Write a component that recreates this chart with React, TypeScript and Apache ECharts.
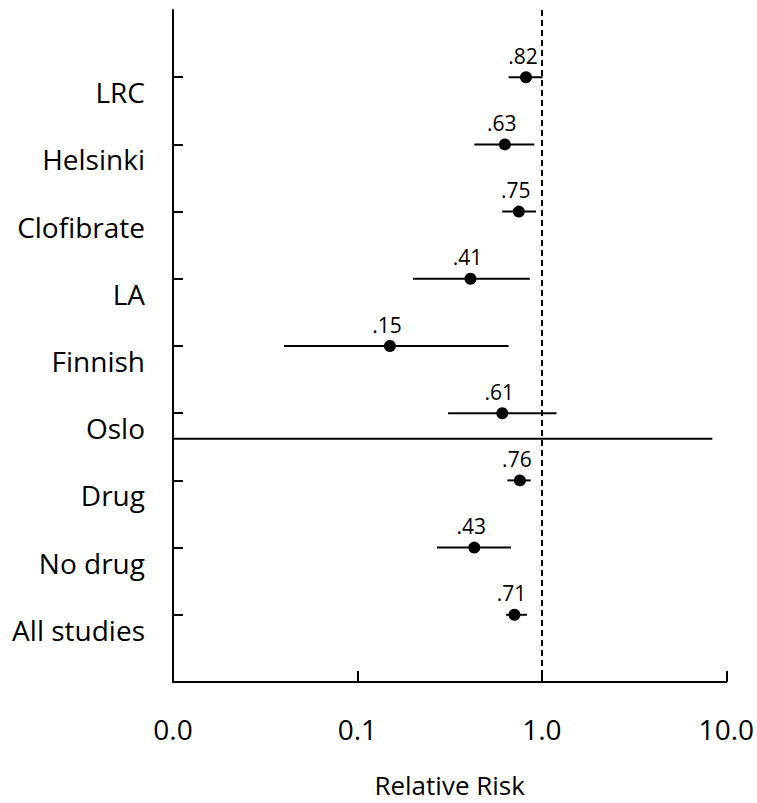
import React, { useEffect, useRef } from "react";
import * as echarts from "echarts";

const categories = ["LRC", "Helsinki", "Clofibrate", "LA", "Finnish", "Oslo", "Drug", "No drug", "All studies"];
const riskValues = [0.82, 0.63, 0.75, 0.41, 0.15, 0.61, 0.76, 0.43, 0.71];
const riskLabels = [".82", ".63", ".75", ".41", ".15", ".61", ".76", ".43", ".71"];
const ciLower = [0.66, 0.43, 0.61, 0.2, 0.04, 0.31, 0.65, 0.27, 0.64];
const ciUpper = [1.01, 0.91, 0.93, 0.86, 0.66, 1.2, 0.87, 0.68, 0.83];
const rowPositions = [1, 2, 3, 4, 5, 6, 7, 8, 9];
const xMin = 0.01;
const xMax = 10;
const referenceValue = 1;
const dividerRow = 6.38;
const dividerEnd = 8.4;
const xAxisTitle = "Relative Risk";

const FONT = "'Open Sans', 'DejaVu Sans', sans-serif";

export default function App() {
  const ref = useRef<HTMLDivElement>(null);
  useEffect(() => {
    if (!ref.current) return;
    const chart = echarts.init(ref.current, undefined, { renderer: "svg" });
    const option: any = {
      animation: false,
      backgroundColor: "#fff",
      textStyle: { fontFamily: FONT, color: "#000" },
      grid: { left: 173, right: 27, top: 10, bottom: 114, containLabel: false },
      xAxis: {
        type: "log",
        logBase: 10,
        min: xMin,
        max: xMax,
        name: xAxisTitle,
        nameLocation: "middle",
        nameGap: 90,
        nameTextStyle: { fontSize: 26, color: "#000", fontFamily: FONT },
        axisLine: { onZero: false, lineStyle: { color: "#000", width: 2 } },
        axisTick: { inside: true, length: 11, lineStyle: { color: "#000", width: 2 } },
        minorTick: { show: false },
        splitLine: { show: false },
        axisLabel: {
          fontSize: 28,
          color: "#000",
          fontFamily: FONT,
          margin: 33,
          formatter: (v: number) => v.toFixed(1),
        },
      },
      yAxis: {
        type: "value",
        inverse: true,
        min: 0,
        max: 10,
        interval: 1,
        axisLine: { show: true, onZero: false, lineStyle: { color: "#000", width: 2 } },
        axisTick: {
          show: true,
          inside: true,
          length: 10,
          customValues: rowPositions,
          lineStyle: { color: "#000", width: 2 },
        },
        splitLine: { show: false },
        axisLabel: {
          fontSize: 28,
          color: "#000",
          fontFamily: FONT,
          margin: 28,
          customValues: rowPositions,
          verticalAlign: "top",
          lineHeight: 30,
          formatter: (v: number) => {
            const i = Math.round(v) - 1;
            return i >= 0 && i < categories.length ? categories[i] : "";
          },
        },
      },
      series: [
        {
          type: "line",
          data: [
            [xMin, dividerRow],
            [dividerEnd, dividerRow],
          ],
          symbol: "none",
          silent: true,
          lineStyle: { color: "#000", width: 2 },
          markLine: {
            silent: true,
            symbol: ["none", "none"],
            label: { show: false },
            lineStyle: { color: "#000", width: 2, type: [6, 4] },
            data: [{ xAxis: referenceValue }],
          },
          z: 1,
        },
        {
          type: "custom",
          data: rowPositions.map((y, i) => [ciLower[i], ciUpper[i], y]),
          encode: { x: [0, 1], y: 2 },
          renderItem: (params: any, api: any) => {
            const p1 = api.coord([api.value(0), api.value(2)]);
            const p2 = api.coord([api.value(1), api.value(2)]);
            return {
              type: "line",
              shape: { x1: p1[0], y1: p1[1], x2: p2[0], y2: p2[1] },
              style: { stroke: "#000", lineWidth: 2 },
            };
          },
          z: 2,
        },
        {
          type: "scatter",
          data: rowPositions.map((y, i) => [riskValues[i], y]),
          symbol: "circle",
          symbolSize: 12,
          itemStyle: { color: "#000", opacity: 1 },
          label: {
            show: true,
            position: "top",
            distance: 5,
            offset: [-3, 0],
            fontSize: 21,
            color: "#000",
            fontFamily: FONT,
            formatter: (p: any) => riskLabels[p.dataIndex],
          },
          emphasis: { disabled: true },
          z: 3,
        },
      ],
    };
    chart.setOption(option);
    return () => chart.dispose();
  }, []);
  return (
    <div
      ref={ref}
      style={{ position: "fixed", left: 0, top: 0, width: 757, height: 803, background: "#fff" }}
    />
  );
}
